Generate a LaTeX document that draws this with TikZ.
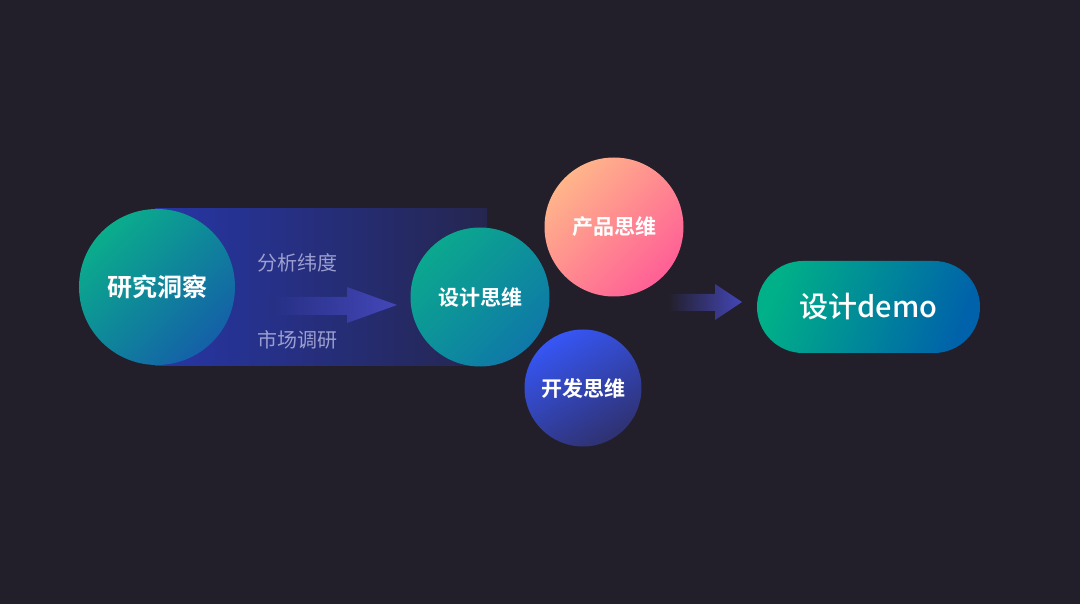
\documentclass[tikz,border=0pt]{standalone}
\usepackage{fontspec}
\newfontfamily\cjk{Noto Sans CJK SC}
\newfontfamily\cjkb{Noto Sans CJK SC Bold}
\newfontfamily\cjkm{Noto Sans CJK SC Medium}
\definecolor{bg}{HTML}{221F2A}
\definecolor{bandL}{HTML}{2636A6}
\definecolor{bandR}{HTML}{25264F}
\definecolor{tealA}{HTML}{0AAD8C}
\definecolor{blueA}{HTML}{1460A8}
\definecolor{tealB}{HTML}{0BA88E}
\definecolor{blueB}{HTML}{0F78A8}
\definecolor{peach}{HTML}{FFB58A}
\definecolor{pink}{HTML}{FF5F96}
\definecolor{royal}{HTML}{3656F5}
\definecolor{navy}{HTML}{2F3170}
\definecolor{arrowC}{HTML}{4446B8}
\definecolor{lbl}{HTML}{9C9FCF}
\definecolor{pillL}{HTML}{00B088}
\definecolor{pillR}{HTML}{0062AA}
\begin{document}
\begin{tikzpicture}[x=1pt,y=-1pt,
  lab/.style={text=white,font=\cjkb\fontsize{21}{23}\selectfont},
  side/.style={text=lbl,font=\cjk\fontsize{20}{22}\selectfont},
  ball/.style={circle,inner sep=0pt,minimum size=#1}]
\useasboundingbox[fill=bg] (0,0) rectangle (1080,604);
% band
\shade[left color=bandL,right color=bandR] (155,209) rectangle (487,365);
% circles
\node[ball=156pt,left color=tealA,right color=blueA,shading angle=45] (yj) at (157,287) {};
\node[lab,font=\cjkb\fontsize{25}{27}\selectfont] at (yj) {研究洞察};
\node[side] (fx) at (297,263) {分析纬度};
\node[side] (sc) at (297,340) {市场调研};
% arrow 1
\shade[left color=bandL!60!bandR,right color=arrowC] (270,297) -- (347,297) -- (347,287) -- (397,305) -- (347,323) -- (347,315) -- (270,315) -- cycle;
\node[ball=139pt,left color=tealB,right color=blueB,shading angle=45] (sj) at (480,297) {};
\node[lab] at (sj) {设计思维};
\node[ball=139pt,left color=peach,right color=pink,shading angle=45] (cp) at (614,227) {};
\node[lab] at (cp) {产品思维};
\node[ball=117pt,top color=royal,bottom color=navy,shading angle=30] (kf) at (583,388) {};
\node[lab] at (kf) {开发思维};
% arrow 2
\shade[left color=bg,right color=arrowC] (668,294) -- (715,294) -- (715,284) -- (742,302) -- (715,320) -- (715,311) -- (668,311) -- cycle;
% pill
\node[rounded corners=46pt,minimum width=223pt,minimum height=92pt,inner sep=0pt,left color=pillL,right color=pillR,shading angle=70] (demo) at (868.5,307) {};
\node[text=white,font=\cjkm\fontsize{29}{31}\selectfont] at (demo) {设计demo};
\end{tikzpicture}
\end{document}
